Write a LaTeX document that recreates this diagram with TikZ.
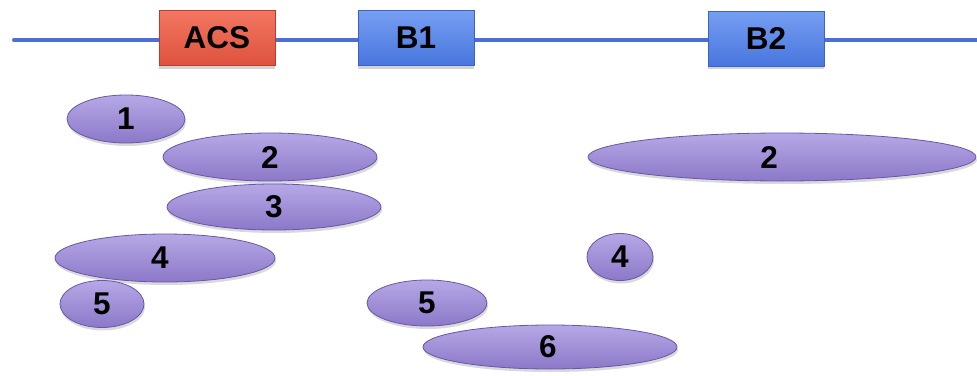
\documentclass[tikz,border=0pt]{standalone}
\usepackage{fontspec}
\setmainfont{Liberation Sans}
\usetikzlibrary{shapes.geometric,shadows}
\definecolor{linec}{RGB}{75,110,215}
\definecolor{redtop}{RGB}{242,118,96}
\definecolor{redbot}{RGB}{222,82,62}
\definecolor{redline}{RGB}{185,60,50}
\definecolor{bluetop}{RGB}{118,158,242}
\definecolor{bluebot}{RGB}{72,118,222}
\definecolor{blueline}{RGB}{60,98,200}
\definecolor{purtop}{RGB}{182,168,230}
\definecolor{purbot}{RGB}{140,120,200}
\definecolor{purline}{RGB}{105,85,170}
\tikzset{
  lbl/.style={font=\fontsize{31.5}{36}\selectfont\bfseries, text=black},
  genebox/.style={lbl, rectangle, minimum width=116pt, minimum height=55pt, inner sep=0pt, line width=0.8pt,
    drop shadow={opacity=0.35, shadow xshift=0pt, shadow yshift=-3pt}},
  redbox/.style={genebox, draw=redline, top color=redtop, bottom color=redbot},
  bluebox/.style={genebox, draw=blueline, top color=bluetop, bottom color=bluebot},
  frag/.style={lbl, ellipse, inner sep=0pt, draw=purline, line width=0.8pt,
    top color=purtop, bottom color=purbot,
    drop shadow={opacity=0.3, shadow xshift=1pt, shadow yshift=-3pt}},
  dna/.style={draw=linec, line width=4pt, line cap=round}
}
\begin{document}
\begin{tikzpicture}[x=1pt,y=-1pt]
\useasboundingbox (0,0) rectangle (977,375);
\coordinate (L) at (14,40);
\coordinate (R) at (980,40);
\draw[dna] (L) -- (R);
\node[redbox]  (acs) at (217,38) {ACS};
\node[bluebox] (b1)  at (416,38) {B1};
\node[bluebox] (b2)  at (766,38.5) {B2};
% fragments
\node[frag, minimum width=118pt, minimum height=48pt] (f1)  at (126,119) {1};
\node[frag, minimum width=214pt, minimum height=48pt] (f2a) at (270,157) {2};
\node[frag, minimum width=214pt, minimum height=46pt] (f3)  at (274,207) {3};
\node[frag, minimum width=220pt, minimum height=48pt] (f4a) at (165,258) {4\hspace*{10pt}};
\node[frag, minimum width=84pt,  minimum height=47pt] (f5a) at (102,304) {5};
\node[frag, minimum width=120pt, minimum height=46pt] (f5b) at (427,303) {5};
\node[frag, minimum width=254pt, minimum height=44pt] (f6)  at (550,347) {6\hspace*{4pt}};
\node[frag, minimum width=66pt,  minimum height=47pt] (f4b) at (620,257) {4};
\node[frag, minimum width=388pt, minimum height=48pt] (f2b) at (782,157) {2\hspace*{26pt}};
\end{tikzpicture}
\end{document}
